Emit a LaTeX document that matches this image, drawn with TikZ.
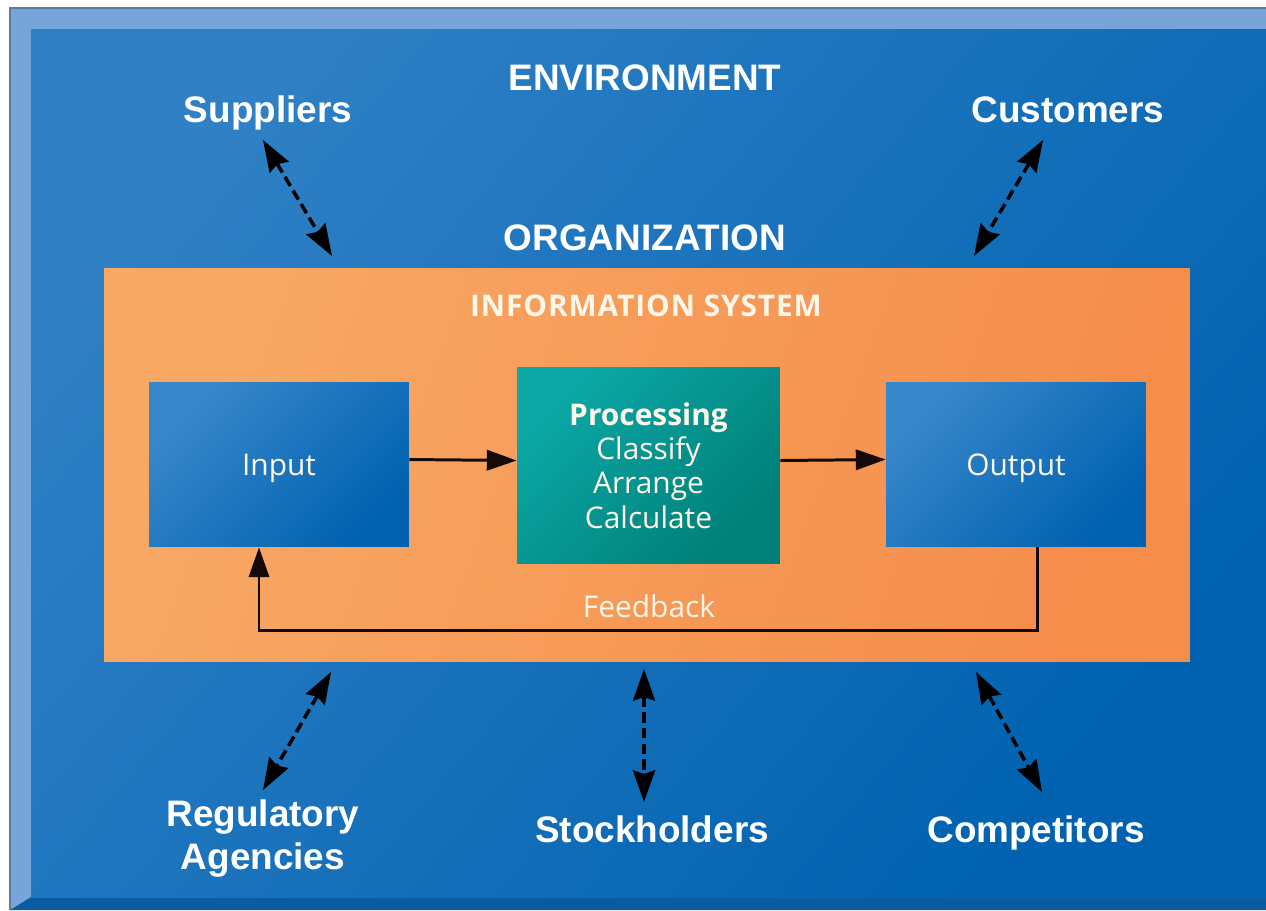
\documentclass[tikz,border=0pt]{standalone}
\usepackage{fontspec}
\setmainfont{Liberation Sans}
\newfontfamily\isfont{Open Sans}
\usepackage{tikz}
\usetikzlibrary{arrows.meta}
\usetikzlibrary{calc}

\definecolor{envlight}{HTML}{2F80C5}
\definecolor{envdark}{HTML}{0062B0}
\definecolor{bevel}{HTML}{78A5D9}
\definecolor{beveldark}{HTML}{0A5BA2}
\definecolor{orgleft}{HTML}{F8A865}
\definecolor{orgright}{HTML}{F58D4B}
\definecolor{boxlight}{HTML}{3887CA}
\definecolor{boxdark}{HTML}{0062B0}
\definecolor{proclight}{HTML}{0BA8A6}
\definecolor{procdark}{HTML}{007F78}
\definecolor{istext}{HTML}{FFF6EA}
\definecolor{arrowink}{HTML}{140A08}

\begin{document}
\begin{tikzpicture}[x=0.02cm, y=-0.02cm,
		envlabel/.style={text=white, font=\bfseries\fontsize{21}{24}\selectfont, align=center, anchor=base},
		islabel/.style={text=istext, font=\isfont\fontsize{17}{19.5}\selectfont, align=center},
		iobox/.style={islabel, minimum width=5.2cm, minimum height=3.3cm, inner sep=0pt, text depth=0pt, top color=boxlight, bottom color=boxdark, shading angle=45},
		procbox/.style={islabel, minimum width=5.26cm, minimum height=3.94cm, inner sep=0pt, top color=proclight, bottom color=procdark, shading angle=45},
		orgbox/.style={minimum width=21.72cm, minimum height=7.88cm, inner sep=0pt, top color=orgleft, bottom color=orgright, shading angle=70},
		flowarrow/.style={-{Triangle[length=17pt,width=11.5pt]}, line width=1.7pt, arrowink},
		envarrow/.style={{Stealth[length=18pt,width=12.5pt,inset=2pt]}-{Stealth[length=18pt,width=12.5pt,inset=2pt]}, line width=2pt, dash pattern=on 6pt off 3pt, black}
		]
		\useasboundingbox (0,0) rectangle (1266,910);
		% frame
		\fill[white] (0,0) rectangle (1266,910);
		\fill[bevel] (10,8) -- (1266,8) -- (1266,29) -- (31,29) -- (31,897) -- (10,910) -- cycle;
		\fill[beveldark] (10,910) -- (31,897) -- (1266,897) -- (1266,910) -- cycle;
		\shade[top color=envlight, bottom color=envdark, shading angle=50] (31,29) rectangle (1266,897);
		\draw[bevel!75!black, line width=0.6pt] (10,910) -- (10,8) -- (1266,8);

		\node[envlabel] (env) at (645,90) {ENVIRONMENT};
		\node[envlabel] (sup) at (268,122) {Suppliers};
		\node[envlabel] (cus) at (1068,122) {Customers};
		\node[envlabel] (org) at (645,250) {ORGANIZATION};
		\node[envlabel] (reg) at (263,869) {Regulatory\\Agencies};
		\node[envlabel] (sto) at (652,842) {Stockholders};
		\node[envlabel] (com) at (1036,842) {Competitors};

		\node[orgbox] (is) at (647,465) {};
		\node[islabel, anchor=base, font=\isfont\bfseries\fontsize{17}{19}\selectfont\addfontfeature{LetterSpace=3}] (istitle) at (646,316) {INFORMATION SYSTEM};
		\node[iobox] (in) at (279,464.5) {Input};
		\node[procbox] (proc) at (648.5,465.5) {\textbf{Processing}\\Classify\\Arrange\\Calculate};
		\node[iobox] (out) at (1016,464.5) {Output};
		\node[islabel, anchor=base] (fb) at (649,617) {Feedback};

		\path[flowarrow]
		([yshift=0.1cm]in.east) edge ([yshift=0.1cm]proc.west)
		([yshift=0.1cm]proc.east) edge ([yshift=0.1cm]out.west);
		\draw[flowarrow] ($(out.south)+(21,0)$) -- ++(0,83) -| ($(in.south)+(-20,0)$);

		\coordinate (sup-a) at (263,140);
		\coordinate (sup-b) at (332,256);
		\coordinate (cus-a) at (1043,140);
		\coordinate (cus-b) at (974,256);
		\coordinate (reg-a) at (331,672);
		\coordinate (reg-b) at (263,790);
		\coordinate (sto-a) at (644,669);
		\coordinate (sto-b) at (644,802);
		\coordinate (com-a) at (976,672);
		\coordinate (com-b) at (1042,792);
		\path[envarrow]
		(sup-a) edge (sup-b)
		(cus-a) edge (cus-b)
		(reg-a) edge (reg-b)
		(sto-a) edge (sto-b)
		(com-a) edge (com-b);
\end{tikzpicture}
\end{document}
